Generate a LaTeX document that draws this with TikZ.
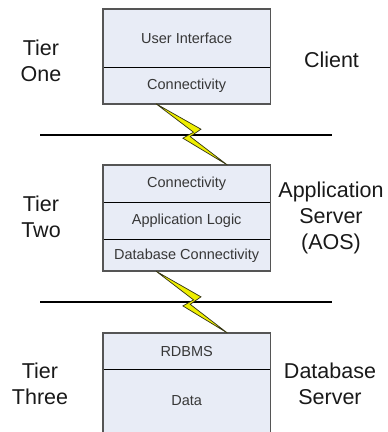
\documentclass[tikz,border=0pt]{standalone}
\usepackage{fontspec}
\setmainfont{Liberation Sans}
\usetikzlibrary{calc}
\definecolor{boxfill}{RGB}{232,236,246}
\definecolor{boxedge}{RGB}{85,85,85}
\definecolor{boxtext}{RGB}{55,55,55}
\definecolor{labeltext}{RGB}{25,25,25}
\definecolor{boltfill}{RGB}{238,238,0}
\definecolor{boltedge}{RGB}{50,50,20}

% lightning-bolt link between two named points
\newcommand\boltbetween[2]{%
  \draw[boltstyle] let \p1=(#1), \p2=(#2) in
    (\p1)
    -- ({\x1+0.630*(\x2-\x1)},{\y1+0.415*(\y2-\y1)})
    -- ({\x1+0.479*(\x2-\x1)},{\y1+0.536*(\y2-\y1)})
    -- (\p2)
    -- ({\x1+0.376*(\x2-\x1)},{\y1+0.562*(\y2-\y1)})
    -- ({\x1+0.525*(\x2-\x1)},{\y1+0.464*(\y2-\y1)})
    -- cycle;}

\begin{document}
\begin{tikzpicture}[x=1pt,y=-1pt,
  layer/.style={fill=boxfill, minimum width=167pt, inner sep=0pt,
    text=boxtext, font=\fontsize{14.5}{17}\selectfont, anchor=north west},
  divider/.style={draw=black, line width=1.1pt},
  frame/.style={draw=boxedge, line width=1.5pt},
  tierlabel/.style={text=labeltext, align=center,
    font=\fontsize{21.5}{26}\selectfont, inner sep=0pt},
  network/.style={draw=black, line width=1.8pt},
  boltstyle/.style={fill=boltfill, draw=boltedge, line width=0.7pt, line join=miter}]

\useasboundingbox (0,0) rectangle (388,432);

% tier one: client
\node[layer, minimum height=58pt] (ui) at (103,9) {User Interface};
\node[layer, minimum height=36pt] (cc) at (ui.south west) {Connectivity};
\draw[divider] (ui.south west) -- (ui.south east);
\draw[frame] (ui.north west) rectangle (cc.south east);

% tier two: application server
\node[layer, minimum height=37pt] (ac) at (103,165) {Connectivity};
\node[layer, minimum height=37pt] (al) at (ac.south west) {Application Logic};
\node[layer, minimum height=31pt] (adb) at (al.south west) {Database Connectivity};
\draw[divider] (ac.south west) -- (ac.south east);
\draw[divider] (al.south west) -- (al.south east);
\draw[frame] (ac.north west) rectangle (adb.south east);

% tier three: database server (runs off the bottom edge)
\node[layer, minimum height=36pt] (rd) at (103,333) {RDBMS};
\node[layer, minimum height=62pt] (dt) at (rd.south west) {Data};
\fill[boxfill] (dt.south west) rectangle ([yshift=-12pt]dt.south east);
\draw[divider] (rd.south west) -- (rd.south east);
\draw[frame] ([yshift=-14pt]dt.south west) -- (rd.north west) -- (rd.north east)
  -- ([yshift=-14pt]dt.south east);

% network lines
\coordinate (n1l) at (40,135);
\coordinate (n1r) at (332,135);
\coordinate (n2l) at (40,302);
\coordinate (n2r) at (332,302);
\draw[network] (n1l) -- (n1r);
\draw[network] (n2l) -- (n2r);

% links between tiers
\coordinate (b1s) at ($(cc.south west)!0.317!(cc.south east)$);
\coordinate (b1e) at ($(ac.north west)!0.743!(ac.north east)$);
\coordinate (b2s) at ($(adb.south west)!0.317!(adb.south east)$);
\coordinate (b2e) at ($(rd.north west)!0.743!(rd.north east)$);
\boltbetween{b1s}{b1e}
\boltbetween{b2s}{b2e}

% tier names
\node[tierlabel] (t1) at (41,60.8) {Tier\\One};
\node[tierlabel] (t2) at (41,216.8) {Tier\\Two};
\node[tierlabel] (t3) at (40,384) {Tier\\Three};

% roles
\node[tierlabel, anchor=base] (r1) at (331.5,67) {Client};
\node[tierlabel] (r2) at (331,218) {Application\\Server\\(AOS)};
\node[tierlabel] (r3) at (330,384) {Database\\Server};
\end{tikzpicture}
\end{document}
